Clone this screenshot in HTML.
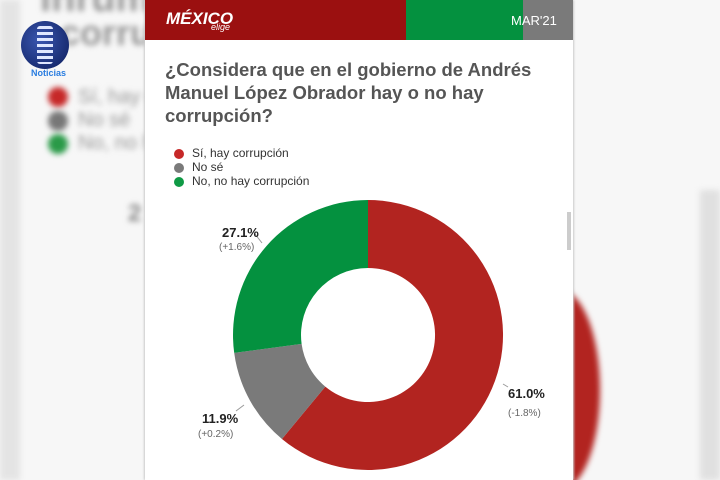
<!DOCTYPE html>
<html style="overflow:hidden;width:720px;height:480px"><head><meta charset="utf-8"><style>
body{margin:0;width:720px;height:480px;overflow:hidden;background:#f7f7f7;font-family:"Liberation Sans",sans-serif;position:relative}
.blur{position:absolute;filter:blur(3px)}
.card{position:absolute;left:145px;top:0;width:428px;height:480px;background:#fff;box-shadow:-1px 0 2px #ccc,1px 0 2px #ccc}
.t{position:absolute;white-space:nowrap}
</style></head><body>
<div style="position:absolute;left:0;top:0;width:720px;height:480px;overflow:hidden">
<div class="blur" style="left:0;top:0;width:20px;height:480px;background:#e4e4e4"></div>
<div class="blur t" style="left:40px;top:-24px;font-size:40px;font-weight:bold;color:#999">Inrumu o</div>
<div class="blur t" style="left:60px;top:12px;font-size:36px;font-weight:bold;color:#999">corrupc</div>
<div class="blur" style="left:48px;top:87px;width:20px;height:20px;border-radius:50%;background:#c62828"></div>
<div class="blur" style="left:48px;top:111px;width:20px;height:20px;border-radius:50%;background:#777"></div>
<div class="blur" style="left:48px;top:134px;width:20px;height:20px;border-radius:50%;background:#2a9a48"></div>
<div class="blur t" style="left:78px;top:86px;font-size:20px;color:#999;line-height:23px">Sí, hay c<br>No sé<br>No, no h</div>
<div class="blur t" style="left:128px;top:200px;font-size:24px;font-weight:bold;color:#888">2</div>
<div class="blur" style="left:700px;top:190px;width:20px;height:290px;background:#e0e0e0"></div>
<div class="blur" style="left:560px;top:290px;width:40px;height:200px;border-radius:0 40px 40px 0/0 100px 100px 0;background:#b22420"></div>
<div style="position:absolute;left:21px;top:21px;width:48px;height:48px;border-radius:50%;background:radial-gradient(circle at 40% 40%,#3a56b0,#0b1c5a)"></div>
<div style="position:absolute;left:37px;top:26px;width:16px;height:38px;background:repeating-linear-gradient(#dfe7ff 0 3px,transparent 3px 6px);border-radius:3px"></div>
<div class="t" style="left:31px;top:68px;font-size:9px;font-weight:bold;color:#2a7de0">Noticias</div>
<div class="card">
 <div style="position:absolute;left:0;top:0;width:261px;height:40px;background:#9b1010"></div>
 <div style="position:absolute;left:261px;top:0;width:117px;height:40px;background:#04913f"></div>
 <div style="position:absolute;left:378px;top:0;width:50px;height:40px;background:#7a7a7a"></div>
 <div class="t" style="left:21px;top:9px;font-size:17px;font-weight:bold;color:#fff;font-style:italic">MÉXICO</div>
 <div class="t" style="left:66px;top:22px;font-size:9px;color:#fff;font-style:italic">elige</div>
 <div class="t" style="left:366px;top:13px;font-size:13px;color:#fff">MAR'21</div>
 <div class="t" style="left:20px;top:58px;font-size:18.5px;font-weight:bold;color:#555;line-height:23px">¿Considera que en el gobierno de Andrés<br>Manuel López Obrador hay o no hay<br>corrupción?</div>
 <div style="position:absolute;left:29px;top:149px;width:10px;height:10px;border-radius:50%;background:#c62828"></div>
 <div style="position:absolute;left:29px;top:163px;width:10px;height:10px;border-radius:50%;background:#7a7a7a"></div>
 <div style="position:absolute;left:29px;top:177px;width:10px;height:10px;border-radius:50%;background:#0f9a45"></div>
 <div class="t" style="left:47px;top:146px;font-size:12px;color:#333;line-height:14px">Sí, hay corrupción<br>No sé<br>No, no hay corrupción</div>
 <div style="position:absolute;left:422px;top:212px;width:4px;height:38px;background:#ccc"></div>
</div>
<svg width="720" height="480" style="position:absolute;left:0;top:0">
<path d="M368,200 A135,135 0 1 1 281.95,439 L325.3,386.6 A67,67 0 1 0 368,268 Z" fill="#b22420"/>
<path d="M281.95,439 A135,135 0 0 1 234.2,352.9 L301.6,343.9 A67,67 0 0 0 325.3,386.6 Z" fill="#7a7a7a"/>
<path d="M234.2,352.9 A135,135 0 0 1 368,200 L368,268 A67,67 0 0 0 301.6,343.9 Z" fill="#04913f"/>
<line x1="255" y1="234" x2="262" y2="243" stroke="#999"/>
<line x1="236" y1="411" x2="244" y2="405" stroke="#999"/>
<line x1="503" y1="384" x2="508" y2="387" stroke="#999"/>
<g font-family="Liberation Sans,sans-serif">
<text x="222" y="237" font-size="13" font-weight="bold" fill="#222">27.1%</text>
<text x="219" y="250" font-size="10" fill="#666">(+1.6%)</text>
<text x="202" y="423" font-size="13" font-weight="bold" fill="#222">11.9%</text>
<text x="198" y="437" font-size="10" fill="#666">(+0.2%)</text>
<text x="508" y="398" font-size="13" font-weight="bold" fill="#222">61.0%</text>
<text x="508" y="416" font-size="10" fill="#666">(-1.8%)</text>
</g>
</svg>
</div>
</body></html>
